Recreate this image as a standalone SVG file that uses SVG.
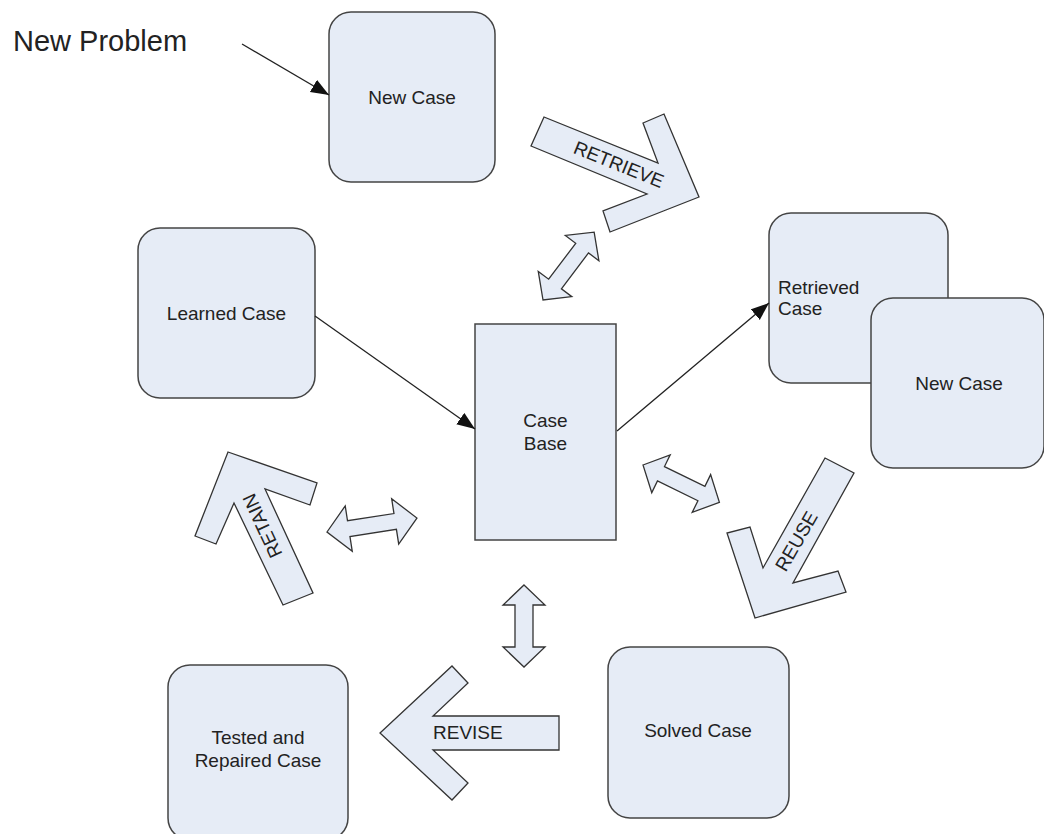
<svg xmlns="http://www.w3.org/2000/svg" width="1044" height="834" viewBox="0 0 1044 834">
<defs>
<style>
.box{fill:#e6ecf6;stroke:#444;stroke-width:1.5}
.blk{fill:#e6ecf6;stroke:#333;stroke-width:1.3;stroke-linejoin:miter}
.lbl{font-family:"Liberation Sans",Arial,sans-serif;font-size:19px;fill:#222}
.mid{text-anchor:middle}
.ln{stroke:#222;stroke-width:1.3;fill:none}
</style>
<marker id="ah" markerUnits="userSpaceOnUse" markerWidth="19" markerHeight="15" refX="18" refY="7" orient="auto">
<path d="M0,0 L18,7 L0,14 Z" fill="#111"/>
</marker>
</defs>
<rect width="1044" height="834" fill="#fff"/>

<text class="lbl" x="13" y="51" style="font-size:29px">New Problem</text>

<g id="node-new-case-top">
<rect class="box" x="329" y="12" width="166" height="170" rx="22"/>
<text class="lbl mid" x="412" y="104">New Case</text>
</g>
<g id="node-learned-case">
<rect class="box" x="138" y="228" width="177" height="170" rx="22"/>
<text class="lbl mid" x="226.5" y="320">Learned Case</text>
</g>
<g id="node-case-base">
<rect class="box" x="475" y="324" width="141" height="216"/>
<text class="lbl mid" x="545.5" y="427">Case</text>
<text class="lbl mid" x="545.5" y="450">Base</text>
</g>
<g id="node-retrieved-case">
<rect class="box" x="769" y="213" width="179" height="170" rx="22"/>
<text class="lbl" x="778" y="294">Retrieved</text>
<text class="lbl" x="778" y="315">Case</text>
</g>
<g id="node-new-case-right">
<rect class="box" x="871" y="298" width="173" height="170" rx="22"/>
<text class="lbl mid" x="959" y="390">New Case</text>
</g>
<g id="node-solved-case">
<rect class="box" x="608" y="647" width="181" height="171" rx="22"/>
<text class="lbl mid" x="698" y="737">Solved Case</text>
</g>
<g id="node-tested-case">
<rect class="box" x="168" y="665" width="180" height="175" rx="22"/>
<text class="lbl mid" x="258" y="744">Tested and</text>
<text class="lbl mid" x="258" y="767">Repaired Case</text>
</g>

<g id="block-retrieve">
<polygon class="blk" points="544,117 658,163 643,123 664,114 699,197 610,232 603,211 647,194 531,146"/>
<text class="lbl mid" transform="translate(619,164) rotate(22)" y="7">RETRIEVE</text>
</g>
<g id="block-reuse">
<polygon class="blk" points="825,458 854,473 793,583 838,571 846,592 755,618 727,533 750,527 763,568"/>
<text class="lbl mid" transform="translate(796,541) rotate(-60)" y="7">REUSE</text>
</g>
<g id="block-revise">
<polygon class="blk" points="559,716 559,750 433,750 468,783 452,800 380,733 452,666 468,683 433,716"/>
<text class="lbl" x="433" y="739">REVISE</text>
</g>
<g id="block-retain">
<polygon class="blk" points="228,452 317,483 310,505 265,489 313,593 283,605 234,503 216,544 195,536"/>
<text class="lbl mid" transform="translate(262,526) rotate(-115)" y="7">RETAIN</text>
</g>

<g id="double-arrows">
<path class="blk" transform="translate(543,300) rotate(-53)" d="M0,0 L20,-21 L20,-8 L65,-8 L65,-21 L85,0 L65,21 L65,8 L20,8 L20,21 Z"/>
<path class="blk" transform="translate(327,532) rotate(-8.8)" d="M0,0 L22,-23 L22,-8 L69,-8 L69,-23 L91,0 L69,23 L69,8 L22,8 L22,23 Z"/>
<path class="blk" transform="translate(643,465) rotate(26)" d="M0,0 L20,-21 L20,-8 L65,-8 L65,-21 L85,0 L65,21 L65,8 L20,8 L20,21 Z"/>
<path class="blk" transform="translate(524,585) rotate(90)" d="M0,0 L20,-21 L20,-9 L62,-9 L62,-21 L82,0 L62,21 L62,9 L20,9 L20,21 Z"/>
</g>

<g id="connectors">
<line class="ln" x1="242" y1="44" x2="329" y2="95" marker-end="url(#ah)"/>
<line class="ln" x1="315" y1="316" x2="475" y2="429" marker-end="url(#ah)"/>
<line class="ln" x1="617" y1="431" x2="769" y2="303" marker-end="url(#ah)"/>
</g>
</svg>
